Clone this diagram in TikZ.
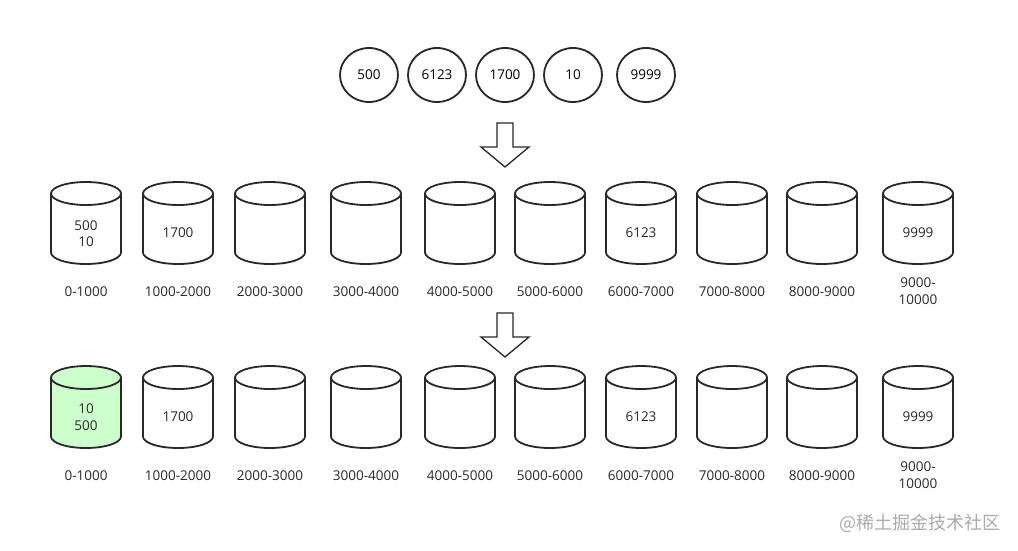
\documentclass[tikz,border=0pt]{standalone}
\usepackage{fontspec}
\setmainfont{Open Sans}
\newfontfamily\cjk{Noto Sans CJK SC}
\usepackage{tikz}
\usetikzlibrary{shapes.geometric}

\definecolor{hitgreen}{RGB}{204,255,204}
\definecolor{inkgray}{RGB}{40,40,40}

\tikzset{
  edge/.style={draw=inkgray, line width=1.8pt},
  bucket fill/.style={fill=white},
  bucket/.pic={
    \path[bucket fill] (-35,-29.5) -- (-35,29.5) arc[start angle=180, end angle=0, x radius=35, y radius=11.5] -- (35,-29.5) -- cycle;
    \draw[edge] (-35,-29.5) -- (-35,29.5) arc[start angle=180, end angle=0, x radius=35, y radius=11.5] -- (35,-29.5);
    \filldraw[edge, bucket fill] (0,-29.5) ellipse[x radius=35, y radius=11.5];
  },
  ball/.style={edge, ellipse, minimum width=58pt, minimum height=54pt, inner sep=0pt, font=\fontsize{13.5}{16}\selectfont},
  txt/.style={inner sep=0pt, align=center, text=inkgray, font=\fontsize{13.5}{16.5}\selectfont},
}

\begin{document}
\begin{tikzpicture}[x=1pt, y=-1pt]
            % page
            \fill[white] (0,0) rectangle (1018,550);
            \useasboundingbox (0,0) rectangle (1018,550);

            % Adding the numbers
            \node[ball] (n500) at (369,75) {500};
            \node[ball] (n6123) at (437,75) {6123};
            \node[ball] (n1700) at (505,75) {1700};
            \node[ball] (n10) at (573,75) {10};
            \node[ball] (n9999) at (646,75) {9999};

            % Adding arrows
            \draw[edge, line width=1.3pt] (497,123) -- (513,123) -- (513,147) -- (529,147) -- (505,167) -- (481,147) -- (497,147) -- cycle;
            \draw[edge, line width=1.3pt] (497,313) -- (513,313) -- (513,337) -- (529,337) -- (505,357) -- (481,337) -- (497,337) -- cycle;

            % Buckets, first row
            \pic at (86,223) {bucket};
            \pic at (178,223) {bucket};
            \pic at (270,223) {bucket};
            \pic at (366,223) {bucket};
            \pic at (460,223) {bucket};
            \pic at (550,223) {bucket};
            \pic at (641,223) {bucket};
            \pic at (732,223) {bucket};
            \pic at (822,223) {bucket};
            \pic at (918,223) {bucket};

            % Buckets, second row
            \pic[bucket fill/.style={fill=hitgreen}] at (86,407) {bucket};
            \pic at (178,407) {bucket};
            \pic at (270,407) {bucket};
            \pic at (366,407) {bucket};
            \pic at (460,407) {bucket};
            \pic at (550,407) {bucket};
            \pic at (641,407) {bucket};
            \pic at (732,407) {bucket};
            \pic at (822,407) {bucket};
            \pic at (918,407) {bucket};

            % contents
            \node[txt] (a1) at (86,233.5) {500\\10};
            \node[txt] (a2) at (178,233) {1700};
            \node[txt] (a7) at (641,233) {6123};
            \node[txt] (a10) at (918,233) {9999};
            \node[txt] (b1) at (86,417) {10\\500};
            \node[txt] (b2) at (178,417) {1700};
            \node[txt] (b7) at (641,417) {6123};
            \node[txt] (b10) at (918,417) {9999};

            % ranges, first row
            \node[txt] (ra1) at (86,292) {0-1000};
            \node[txt] (ra2) at (178,292) {1000-2000};
            \node[txt] (ra3) at (270,292) {2000-3000};
            \node[txt] (ra4) at (366,292) {3000-4000};
            \node[txt] (ra5) at (460,292) {4000-5000};
            \node[txt] (ra6) at (550,292) {5000-6000};
            \node[txt] (ra7) at (641,292) {6000-7000};
            \node[txt] (ra8) at (732,292) {7000-8000};
            \node[txt] (ra9) at (822,292) {8000-9000};
            \node[txt] (ra10) at (918,291) {9000-\\10000};

            % ranges, second row
            \node[txt] (rb1) at (86,476) {0-1000};
            \node[txt] (rb2) at (178,476) {1000-2000};
            \node[txt] (rb3) at (270,476) {2000-3000};
            \node[txt] (rb4) at (366,476) {3000-4000};
            \node[txt] (rb5) at (460,476) {4000-5000};
            \node[txt] (rb6) at (550,476) {5000-6000};
            \node[txt] (rb7) at (641,476) {6000-7000};
            \node[txt] (rb8) at (732,476) {7000-8000};
            \node[txt] (rb9) at (822,476) {8000-9000};
            \node[txt] (rb10) at (918,475) {9000-\\10000};

            % watermark
            \node[anchor=east, inner sep=0pt, text=black!33, font=\cjk\fontsize{18}{21}\selectfont] (mark) at (1001,523) {@稀土掘金技术社区};
\end{tikzpicture}
\end{document}
